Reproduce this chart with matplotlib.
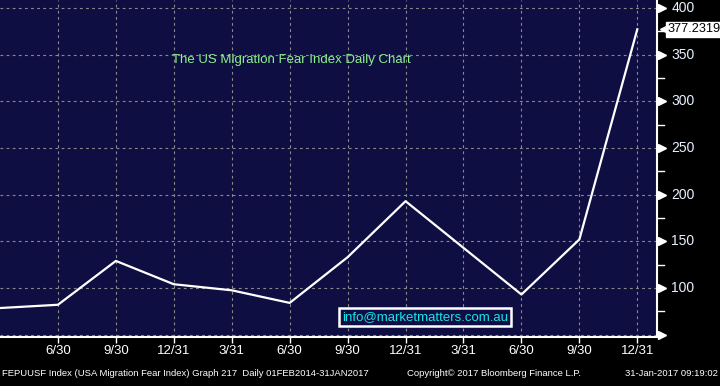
import matplotlib
matplotlib.use("Agg")
import matplotlib.pyplot as plt
import matplotlib.transforms as mtransforms
import numpy as np

# quarter-end readings of the index (3/31/2014 .. 12/31/2016)
quarters = ["3/31", "6/30", "9/30", "12/31", "3/31", "6/30", "9/30",
            "12/31", "3/31", "6/30", "9/30", "12/31"]
values = [78.5, 82, 129, 104, 97.5, 84, 133, 193, 143, 93, 152, 377.2319]
last_value = 377.2319
y_major = [100, 150, 200, 250, 300, 350, 400]

plt.rcParams['font.family'] = ['Liberation Sans', 'DejaVu Sans']

bg = '#0f0e42'
fig = plt.figure(figsize=(7.2, 3.86), dpi=100, facecolor='black')
ax = fig.add_axes([0.0, 0.128, 0.9125, 0.872])
ax.set_facecolor(bg)

x = np.arange(len(values))
ax.plot(x, values, color='white', lw=1.6, zorder=3)

ax.set_xlim(0, 11.34)
ax.set_ylim(47.9, 408.6)

# grid
ax.set_xticks(x[1:])
ax.set_xticklabels(quarters[1:])
ax.set_yticks([50] + y_major)
ax.grid(True, color='#8a8a8a', linestyle=(0, (2.5, 3)), lw=0.8)

for s in ['top', 'left']:
    ax.spines[s].set_visible(False)
ax.spines['right'].set_color('white')
ax.spines['bottom'].set_color('white')
ax.spines['right'].set_linewidth(1.5)
ax.spines['bottom'].set_linewidth(1.5)

ax.tick_params(axis='x', colors='white', length=4, width=1, labelsize=9.5, pad=2)
ax.yaxis.tick_right()
ax.tick_params(axis='y', length=0, labelright=False, labelleft=False)

# right axis: arrow markers, minor ticks, labels
trans = mtransforms.blended_transform_factory(ax.transAxes, ax.transData)
for v in [50] + y_major:
    ax.plot(1.007, v, marker='>', color='white', ms=6, transform=trans, clip_on=False)
for v in y_major:
    ax.text(1.022, v, str(v), transform=trans, color='#eaf2ff', fontsize=10,
            va='center', ha='left')
for v in np.arange(75, 400, 50):
    ax.plot([1.0, 1.01], [v, v], color='white', lw=1, transform=trans, clip_on=False)

# last value label
ax.plot(1.012, last_value, marker='<', color='white', ms=7, transform=trans, clip_on=False)
ax.text(1.016, last_value, f"{last_value:.4f}", transform=trans, color='black',
        fontsize=9.2, va='center', ha='left',
        bbox=dict(boxstyle='square,pad=0.1', fc='white', ec='white'))

# annotations
ax.text(0.443, 0.823, "The US Migration Fear Index Daily Chart", transform=ax.transAxes,
        color='#8ef08e', fontsize=9.5, ha='center', va='center')
ax.text(0.647, 0.058, "info@marketmatters.com.au", transform=ax.transAxes,
        color='#19e3e8', fontsize=9.5, ha='center', va='center',
        bbox=dict(boxstyle='square,pad=0.25', fc=bg, ec='white', lw=1.8))

# footer
fig.text(0.003, 0.02, "FEPUUSF Index (USA Migration Fear Index) Graph 217  Daily 01FEB2014-31JAN2017",
         color='white', fontsize=6.8, ha='left', va='bottom')
fig.text(0.565, 0.02, "Copyright\u00a9 2017 Bloomberg Finance L.P.",
         color='white', fontsize=6.8, ha='left', va='bottom')
fig.text(0.997, 0.02, "31-Jan-2017 09:19:02",
         color='white', fontsize=6.8, ha='right', va='bottom')

fig.savefig("out.png", dpi=100, facecolor='black')
